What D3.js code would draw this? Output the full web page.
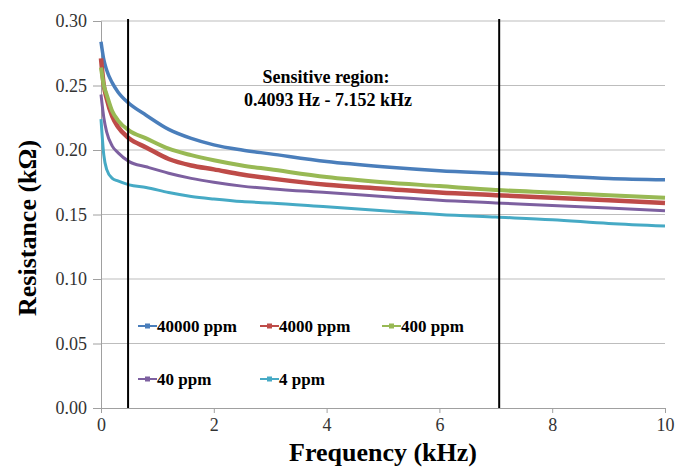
<!DOCTYPE html>
<html>
<head>
<meta charset="utf-8">
<script src="https://cdn.jsdelivr.net/npm/d3@7"></script>
<style>
  body { margin: 0; background: #fff; }
</style>
</head>
<body>
<div id="chart"></div>
<script>
var width = 678, height = 468;
var margin = {top: 21, right: 13, bottom: 60, left: 101};
var serif = "'Times New Roman', Times, Tinos, 'Liberation Serif', 'DejaVu Serif', 'Noto Serif', serif";

// frequency points (kHz)
var freq = [0, 0.05, 0.1, 0.2, 0.3, 0.5, 0.8, 1.2, 1.6, 2, 2.5, 3, 4, 5, 6, 7, 8, 9, 10];
// resistance (kOhm) per concentration
var r40000 = [0.284, 0.270, 0.262, 0.252, 0.245, 0.236, 0.227, 0.216, 0.209, 0.204, 0.200, 0.197, 0.191, 0.187, 0.184, 0.182, 0.180, 0.178, 0.177];
var r4000  = [0.271, 0.250, 0.240, 0.226, 0.218, 0.209, 0.202, 0.193, 0.188, 0.185, 0.181, 0.178, 0.173, 0.170, 0.167, 0.165, 0.163, 0.161, 0.159];
var r400   = [0.264, 0.250, 0.243, 0.230, 0.223, 0.215, 0.209, 0.201, 0.196, 0.192, 0.188, 0.185, 0.179, 0.175, 0.172, 0.169, 0.167, 0.165, 0.163];
var r40    = [0.243, 0.225, 0.214, 0.203, 0.198, 0.191, 0.187, 0.182, 0.178, 0.175, 0.172, 0.170, 0.167, 0.164, 0.161, 0.159, 0.157, 0.155, 0.153];
var r4     = [0.224, 0.196, 0.185, 0.178, 0.176, 0.173, 0.171, 0.167, 0.164, 0.162, 0.160, 0.159, 0.156, 0.153, 0.150, 0.148, 0.146, 0.143, 0.141];

var seriesNames = ["40000 ppm", "4000 ppm", "400 ppm", "40 ppm", "4 ppm"];
var seriesColors = ["#4a7ebb", "#be4b48", "#98b954", "#7d60a0", "#46aac5"];
var seriesValues = [r40000, r4000, r400, r40, r4];

var yTicks = [0, 0.05, 0.10, 0.15, 0.20, 0.25, 0.30];
var xTicks = [0, 2, 4, 6, 8, 10];
var regionBounds = [0.48, 7.06];

var x = d3.scaleLinear().domain([0, 10]).range([margin.left, width - margin.right]);
var y = d3.scaleLinear().domain([0, 0.30]).range([height - margin.bottom, margin.top]);

var svg = d3.select("#chart").append("svg").attr("width", width).attr("height", height)
    .attr("font-family", serif);

// gridlines
svg.append("g").selectAll("line").data(yTicks.slice(1)).enter().append("line")
    .attr("x1", x(0)).attr("x2", x(10))
    .attr("y1", function(d) { return y(d); }).attr("y2", function(d) { return y(d); })
    .style("stroke", "#bdbdbd").style("stroke-width", 1);

// y axis
var yAxis = svg.append("g").attr("transform", "translate(" + x(0) + ",0)")
    .call(d3.axisLeft(y).tickValues(yTicks).tickFormat(d3.format(".2f")).tickSize(8).tickPadding(6));
yAxis.attr("font-family", serif).attr("font-size", 18);
yAxis.select(".domain").style("stroke", "#a0a0a0");
yAxis.selectAll(".tick line").style("stroke", "#a0a0a0");
yAxis.selectAll("text").style("fill", "#333");

// x axis
var xAxis = svg.append("g").attr("transform", "translate(0," + y(0) + ")")
    .call(d3.axisBottom(x).tickValues(xTicks).tickSize(5).tickPadding(5));
xAxis.attr("font-family", serif).attr("font-size", 18);
xAxis.select(".domain").style("stroke", "#a0a0a0");
xAxis.selectAll(".tick line").style("stroke", "#a0a0a0");
xAxis.selectAll("text").style("fill", "#333");

// series
var line = d3.line()
    .x(function(d, i) { return x(freq[i]); })
    .y(function(d) { return y(d); })
    .curve(d3.curveMonotoneX);

var widths = [3.5, 4.5, 4, 3, 3];
seriesValues.forEach(function(vals, k) {
  svg.append("path").datum(vals)
      .attr("d", line)
      .style("fill", "none")
      .style("stroke", seriesColors[k])
      .style("stroke-width", widths[k])
      .style("stroke-linejoin", "round");
});

// sensitive region bounds
svg.append("g").selectAll("line").data(regionBounds).enter().append("line")
    .attr("x1", function(d) { return x(d); }).attr("x2", function(d) { return x(d); })
    .attr("y1", y(0.30) - 2).attr("y2", y(0))
    .style("stroke", "#000").style("stroke-width", 2);

svg.append("text").attr("x", 326).attr("y", 83)
    .attr("text-anchor", "middle").style("font-weight", "bold").style("font-size", "18px")
    .text("Sensitive region:");
svg.append("text").attr("x", 328).attr("y", 106)
    .attr("text-anchor", "middle").style("font-weight", "bold").style("font-size", "18px")
    .text("0.4093 Hz - 7.152 kHz");

// legend
var legendPos = [[138, 326], [260, 326], [382, 326], [138, 379], [260, 379]];
seriesNames.forEach(function(name, k) {
  var p = legendPos[k];
  svg.append("line").attr("x1", p[0]).attr("x2", p[0] + 19).attr("y1", p[1]).attr("y2", p[1])
      .style("stroke", seriesColors[k]).style("stroke-width", 2);
  svg.append("rect").attr("x", p[0] + 7).attr("y", p[1] - 2.5).attr("width", 5).attr("height", 5)
      .style("fill", seriesColors[k]);
  svg.append("text").attr("x", p[0] + 19).attr("y", p[1] + 6)
      .style("font-weight", "bold").style("font-size", "17px").style("fill", "#000")
      .text(name);
});

// axis titles
svg.append("text").attr("x", (x(0) + x(10)) / 2).attr("y", 461)
    .attr("text-anchor", "middle").style("font-weight", "bold").style("font-size", "26px")
    .text("Frequency (kHz)");
svg.append("text").attr("transform", "translate(36," + 228 + ") rotate(-90)")
    .attr("text-anchor", "middle").style("font-weight", "bold").style("font-size", "26px")
    .text("Resistance (kΩ)");
</script>
</body>
</html>
